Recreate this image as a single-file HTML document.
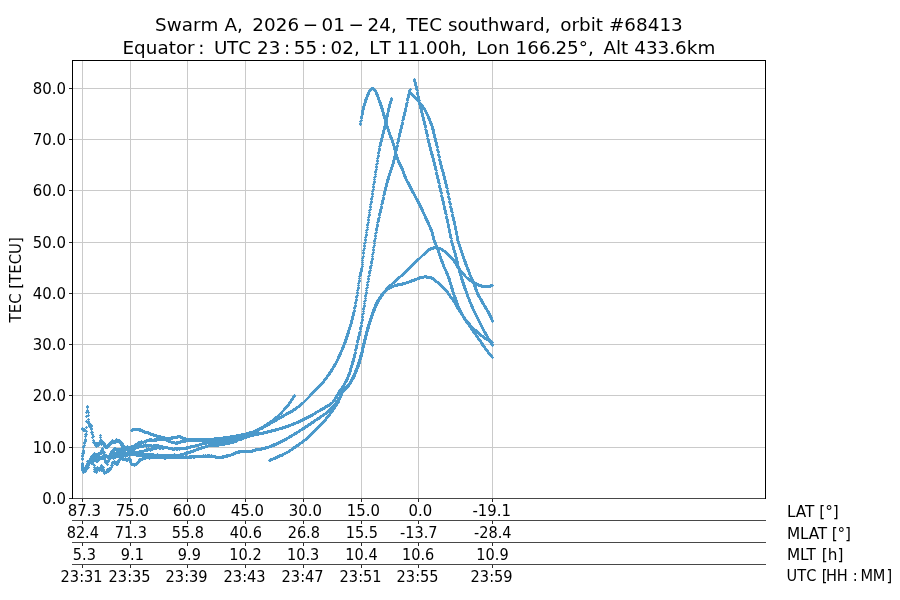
<!DOCTYPE html>
<html lang="en"><head><meta charset="utf-8"><title>Swarm A TEC southward orbit 68413</title>
<style>html,body{margin:0;padding:0;background:#fff;overflow:hidden}svg{display:block}</style></head>
<body>
<svg width="900" height="600" viewBox="0 0 900 600">
<rect width="900" height="600" fill="#fff"/>
<path d="M82.5 60.5 V498.5M130.5 60.5 V498.5M187.5 60.5 V498.5M245.5 60.5 V498.5M303.5 60.5 V498.5M361.5 60.5 V498.5M418.5 60.5 V498.5M492.5 60.5 V498.5M72.5 447.5 H765.5M72.5 395.5 H765.5M72.5 344.5 H765.5M72.5 293.5 H765.5M72.5 242.5 H765.5M72.5 190.5 H765.5M72.5 139.5 H765.5M72.5 88.5 H765.5" stroke="#cacaca" stroke-width="1" fill="none" shape-rendering="crispEdges"/>
<defs><marker id="p" markerUnits="userSpaceOnUse" markerWidth="4" markerHeight="4" refX="2" refY="2" viewBox="0 0 4 4"><path d="M0.55 2H3.45M2 0.55V3.45" stroke="#4b99cb" stroke-width="1.15" fill="none"/></marker></defs>
<g fill="none" stroke="none" marker-start="url(#p)" marker-mid="url(#p)" marker-end="url(#p)">
<polyline points="82.5,464.5 82.5,463.5 82.5,459.5 82.5,458.5 82.5,455.5 82.5,456.5 82.5,453.5 83.5,453.5 83.5,452.5 83.5,451.5 83.5,450.5 83.5,447.5 83.5,446.5 84.5,445.5 84.5,443.5 84.5,442.5 85.5,441.5 85.5,440.5 85.5,439.5 85.5,436.5 85.5,434.5 86.5,434.5 86.5,431.5 86.5,427.5 86.5,421.5 86.5,416.5 86.5,412.5 87.5,411.5 87.5,407.5 87.5,406.5 87.5,410.5 88.5,412.5 88.5,415.5 88.5,419.5 88.5,421.5 88.5,423.5 88.5,422.5 89.5,425.5 89.5,426.5 89.5,423.5 90.5,426.5 90.5,425.5 90.5,427.5 90.5,424.5 91.5,426.5 91.5,425.5 91.5,428.5 91.5,429.5 91.5,432.5 92.5,432.5 92.5,434.5 92.5,437.5 93.5,436.5 93.5,440.5 93.5,442.5 94.5,442.5 94.5,443.5 95.5,444.5 95.5,445.5 96.5,444.5 96.5,446.5 96.5,443.5 97.5,444.5 97.5,443.5 98.5,443.5 98.5,445.5 98.5,444.5 99.5,442.5 99.5,443.5 100.5,440.5 100.5,435.5 100.5,437.5 101.5,440.5 101.5,443.5 101.5,442.5 101.5,444.5 102.5,442.5 102.5,443.5 103.5,443.5 103.5,442.5 103.5,444.5 104.5,445.5 104.5,444.5 104.5,443.5 104.5,446.5 105.5,445.5 105.5,446.5 105.5,447.5 106.5,446.5 106.5,447.5 107.5,445.5 107.5,447.5 108.5,446.5 108.5,445.5 109.5,444.5 109.5,445.5 109.5,443.5 110.5,443.5 110.5,442.5 111.5,443.5 111.5,442.5 112.5,442.5 112.5,440.5 113.5,441.5 113.5,442.5 114.5,442.5 114.5,441.5 115.5,441.5 115.5,442.5 116.5,440.5 116.5,441.5 116.5,439.5 117.5,440.5 117.5,441.5 118.5,441.5 118.5,440.5 119.5,440.5 119.5,441.5 119.5,442.5 120.5,442.5 120.5,441.5 120.5,443.5 121.5,442.5 121.5,443.5 121.5,445.5 121.5,444.5 122.5,443.5 122.5,444.5 122.5,445.5 123.5,446.5 123.5,447.5 124.5,447.5 124.5,446.5 124.5,448.5 125.5,447.5 126.5,447.5 126.5,448.5 127.5,447.5 127.5,446.5 127.5,448.5 128.5,447.5 128.5,448.5 129.5,447.5 129.5,448.5 129.5,449.5 130.5,448.5 130.5,447.5 131.5,447.5 131.5,446.5 132.5,447.5 132.5,446.5 133.5,446.5 134.5,446.5 134.5,445.5 135.5,446.5 135.5,444.5 135.5,445.5 136.5,444.5 136.5,445.5 137.5,444.5 137.5,443.5 138.5,442.5 138.5,443.5 139.5,442.5 139.5,443.5 140.5,442.5 141.5,442.5 141.5,441.5 142.5,442.5 143.5,442.5 144.5,441.5 145.5,441.5 146.5,441.5 146.5,440.5 147.5,440.5 148.5,440.5 149.5,440.5 149.5,439.5 150.5,440.5 150.5,439.5 151.5,439.5 151.5,440.5 152.5,440.5 153.5,440.5 154.5,440.5 154.5,439.5 155.5,440.5 155.5,439.5 156.5,439.5 156.5,440.5 157.5,439.5 158.5,439.5 159.5,439.5 160.5,439.5 160.5,438.5 161.5,439.5 161.5,438.5 162.5,439.5 163.5,439.5 164.5,439.5 165.5,439.5 166.5,440.5 167.5,440.5 168.5,440.5 168.5,441.5 169.5,441.5 170.5,441.5 171.5,442.5 172.5,442.5 173.5,442.5 174.5,442.5 175.5,443.5 176.5,443.5 176.5,442.5 177.5,442.5 177.5,443.5 178.5,442.5 179.5,442.5 180.5,442.5 180.5,441.5 181.5,441.5 182.5,441.5 182.5,440.5 183.5,440.5 183.5,441.5 184.5,441.5 184.5,440.5 185.5,441.5 185.5,440.5 186.5,440.5 187.5,440.5 188.5,440.5 189.5,440.5 190.5,440.5 191.5,440.5 192.5,440.5 193.5,440.5 194.5,440.5 195.5,440.5 196.5,440.5 197.5,440.5 198.5,440.5 199.5,440.5 200.5,440.5 201.5,440.5 202.5,440.5 203.5,440.5 204.5,440.5 205.5,440.5 206.5,440.5 207.5,440.5 208.5,440.5 209.5,440.5 210.5,440.5 211.5,440.5 212.5,440.5 213.5,440.5 214.5,440.5 215.5,440.5 216.5,440.5 217.5,440.5 218.5,440.5 219.5,440.5 220.5,440.5 221.5,440.5 222.5,440.5 223.5,440.5 224.5,440.5 225.5,440.5 226.5,440.5 226.5,439.5 227.5,439.5 228.5,440.5 228.5,439.5 229.5,439.5 230.5,439.5 231.5,439.5 232.5,439.5 233.5,439.5 234.5,439.5 234.5,438.5 235.5,438.5 236.5,438.5 237.5,438.5 237.5,437.5 238.5,438.5 238.5,437.5 239.5,438.5 239.5,437.5 240.5,437.5 241.5,437.5 241.5,436.5 242.5,436.5 243.5,436.5 244.5,436.5 244.5,435.5 245.5,435.5 246.5,435.5 247.5,434.5 248.5,434.5 249.5,434.5 249.5,433.5 250.5,433.5 251.5,432.5 252.5,432.5 253.5,432.5 254.5,432.5 254.5,431.5 255.5,431.5 256.5,430.5 257.5,430.5 258.5,430.5 258.5,429.5 259.5,429.5 260.5,428.5 261.5,428.5 261.5,427.5 262.5,428.5 262.5,427.5 263.5,427.5 264.5,426.5 265.5,426.5 266.5,425.5 267.5,425.5 268.5,424.5 269.5,424.5 269.5,423.5 270.5,423.5 271.5,422.5 272.5,422.5 273.5,421.5 274.5,421.5 274.5,420.5 275.5,420.5 276.5,420.5 276.5,419.5 277.5,419.5 278.5,418.5 279.5,418.5 279.5,417.5 280.5,417.5 281.5,417.5 281.5,416.5 282.5,416.5 283.5,416.5 283.5,415.5 284.5,415.5 285.5,414.5 286.5,414.5 286.5,413.5 287.5,413.5 288.5,413.5 288.5,412.5 289.5,412.5 290.5,412.5 290.5,411.5 291.5,411.5 292.5,411.5 292.5,410.5 293.5,410.5 293.5,409.5 294.5,409.5 295.5,409.5 295.5,408.5 296.5,408.5 296.5,407.5 297.5,407.5 298.5,406.5 299.5,406.5 299.5,405.5 300.5,405.5 300.5,404.5 301.5,404.5 301.5,403.5 302.5,403.5 303.5,402.5 304.5,401.5 305.5,400.5 306.5,399.5 307.5,398.5 308.5,397.5 309.5,396.5 310.5,395.5 310.5,394.5 311.5,394.5 311.5,393.5 312.5,393.5 312.5,392.5 313.5,392.5 313.5,391.5 314.5,391.5 314.5,390.5 315.5,390.5 315.5,389.5 316.5,389.5 316.5,388.5 317.5,388.5 317.5,387.5 318.5,387.5 318.5,386.5 319.5,386.5 319.5,385.5 320.5,385.5 320.5,384.5 321.5,384.5 321.5,383.5 322.5,383.5 322.5,382.5 323.5,382.5 323.5,381.5 324.5,380.5 324.5,379.5 325.5,379.5 325.5,378.5 326.5,378.5 326.5,377.5 327.5,376.5 327.5,375.5 328.5,375.5 328.5,374.5 329.5,374.5 329.5,373.5 329.5,372.5 330.5,372.5 330.5,371.5 331.5,371.5 331.5,370.5 331.5,369.5 332.5,369.5 332.5,368.5 333.5,367.5 333.5,366.5 334.5,366.5 334.5,365.5 334.5,364.5 335.5,364.5 335.5,363.5 336.5,362.5 336.5,361.5 337.5,360.5 337.5,359.5 338.5,358.5 338.5,357.5 338.5,356.5 339.5,356.5 339.5,355.5 339.5,354.5 340.5,354.5 340.5,353.5 340.5,352.5 341.5,351.5 341.5,350.5 342.5,349.5 342.5,348.5 342.5,347.5 343.5,347.5 343.5,346.5 343.5,345.5 344.5,344.5 344.5,343.5 344.5,342.5 345.5,342.5 345.5,341.5 345.5,340.5 345.5,339.5 346.5,339.5 346.5,338.5 346.5,337.5 346.5,336.5 347.5,336.5 347.5,335.5 347.5,334.5 347.5,333.5 348.5,333.5 348.5,332.5 348.5,331.5 348.5,330.5 349.5,329.5 349.5,328.5 349.5,327.5 350.5,326.5 350.5,325.5 350.5,324.5 351.5,323.5 351.5,322.5 351.5,321.5 351.5,320.5 352.5,319.5 352.5,318.5 352.5,317.5 352.5,316.5 353.5,315.5 353.5,314.5 353.5,313.5 353.5,312.5 354.5,311.5 354.5,310.5 354.5,308.5 354.5,307.5 355.5,306.5 355.5,305.5 355.5,303.5 355.5,302.5 356.5,300.5 356.5,299.5 356.5,297.5 356.5,296.5 357.5,295.5 357.5,293.5 357.5,292.5 357.5,290.5 358.5,288.5 358.5,287.5 358.5,285.5 358.5,283.5 359.5,281.5 359.5,280.5 359.5,278.5 359.5,276.5 360.5,275.5 360.5,274.5 360.5,273.5 360.5,272.5 361.5,271.5 361.5,270.5 361.5,269.5 361.5,268.5 362.5,266.5 362.5,264.5 362.5,262.5 362.5,260.5 362.5,258.5 363.5,256.5 363.5,253.5 363.5,252.5 363.5,250.5 364.5,248.5 364.5,246.5 364.5,245.5 364.5,243.5 365.5,242.5 365.5,240.5 365.5,239.5 365.5,237.5 366.5,235.5 366.5,234.5 366.5,232.5 366.5,230.5 367.5,229.5 367.5,227.5 367.5,225.5 367.5,224.5 368.5,222.5 368.5,220.5 368.5,219.5 368.5,217.5 369.5,215.5 369.5,214.5 369.5,212.5 369.5,210.5 370.5,209.5 370.5,207.5 370.5,206.5 370.5,204.5 371.5,202.5 371.5,201.5 371.5,199.5 371.5,198.5 372.5,196.5 372.5,194.5 372.5,193.5 372.5,191.5 373.5,189.5 373.5,187.5 373.5,186.5 373.5,184.5 374.5,182.5 374.5,181.5 374.5,179.5 374.5,177.5 375.5,176.5 375.5,174.5 375.5,172.5 375.5,171.5 376.5,169.5 376.5,167.5 376.5,166.5 376.5,164.5 377.5,163.5 377.5,161.5 377.5,160.5 377.5,158.5 378.5,156.5 378.5,155.5 378.5,153.5 378.5,152.5 379.5,150.5 379.5,149.5 379.5,148.5 379.5,146.5 380.5,145.5 380.5,144.5 380.5,143.5 380.5,142.5 381.5,141.5 381.5,140.5 381.5,139.5 381.5,138.5 382.5,137.5 382.5,136.5 382.5,135.5 382.5,134.5 383.5,133.5 383.5,132.5 383.5,131.5 383.5,130.5 384.5,129.5 384.5,128.5 384.5,127.5 384.5,126.5 385.5,125.5 385.5,124.5 385.5,123.5 385.5,122.5 386.5,121.5 386.5,120.5 386.5,119.5 386.5,118.5 386.5,117.5 387.5,116.5 387.5,115.5 387.5,114.5 387.5,113.5 388.5,111.5 388.5,110.5 388.5,109.5 388.5,108.5 389.5,107.5 389.5,106.5 389.5,105.5 389.5,104.5 390.5,103.5 390.5,102.5 390.5,101.5 391.5,100.5 391.5,99.5 391.5,98.5"/>
<polyline points="82.5,467.5 82.5,468.5 82.5,469.5 82.5,470.5 83.5,469.5 83.5,470.5 84.5,469.5 84.5,470.5 84.5,468.5 85.5,469.5 85.5,470.5 85.5,468.5 85.5,467.5 86.5,468.5 86.5,465.5 86.5,466.5 87.5,466.5 87.5,464.5 87.5,463.5 87.5,461.5 88.5,463.5 88.5,461.5 88.5,462.5 89.5,461.5 89.5,460.5 90.5,460.5 90.5,461.5 90.5,459.5 90.5,458.5 91.5,461.5 91.5,459.5 91.5,456.5 91.5,457.5 91.5,458.5 92.5,456.5 92.5,457.5 93.5,455.5 93.5,456.5 93.5,454.5 94.5,453.5 94.5,455.5 94.5,454.5 94.5,456.5 95.5,456.5 95.5,454.5 95.5,455.5 96.5,455.5 96.5,456.5 96.5,454.5 97.5,456.5 97.5,454.5 97.5,455.5 98.5,454.5 98.5,455.5 98.5,453.5 99.5,454.5 99.5,453.5 100.5,453.5 100.5,452.5 101.5,453.5 101.5,452.5 101.5,451.5 101.5,450.5 102.5,449.5 102.5,448.5 102.5,450.5 103.5,452.5 103.5,451.5 104.5,452.5 104.5,455.5 104.5,456.5 104.5,454.5 105.5,456.5 105.5,457.5 106.5,456.5 106.5,455.5 107.5,456.5 108.5,456.5 108.5,457.5 109.5,457.5 109.5,455.5 109.5,456.5 110.5,455.5 110.5,454.5 110.5,453.5 111.5,452.5 111.5,451.5 112.5,451.5 112.5,452.5 113.5,450.5 113.5,451.5 113.5,449.5 114.5,449.5 114.5,448.5 115.5,448.5 115.5,449.5 116.5,449.5 116.5,450.5 117.5,450.5 117.5,451.5 117.5,449.5 118.5,450.5 118.5,449.5 119.5,449.5 120.5,449.5 121.5,448.5 121.5,449.5 122.5,448.5 122.5,449.5 122.5,450.5 123.5,449.5 123.5,450.5 124.5,450.5 124.5,449.5 125.5,448.5 125.5,449.5 126.5,449.5 127.5,450.5 128.5,450.5 129.5,451.5 129.5,450.5 130.5,451.5 130.5,450.5 131.5,451.5 131.5,450.5 132.5,450.5 133.5,450.5 133.5,449.5 134.5,448.5 134.5,449.5 135.5,448.5 135.5,447.5 136.5,447.5 137.5,446.5 137.5,447.5 138.5,446.5 138.5,447.5 139.5,446.5 140.5,446.5 140.5,445.5 141.5,446.5 141.5,445.5 142.5,446.5 143.5,445.5 143.5,446.5 144.5,445.5 145.5,445.5 145.5,444.5 146.5,445.5 146.5,446.5 147.5,445.5 148.5,446.5 148.5,445.5 149.5,445.5 150.5,445.5 151.5,445.5 151.5,446.5 152.5,446.5 153.5,445.5 153.5,446.5 154.5,445.5 154.5,446.5 155.5,445.5 156.5,445.5 157.5,445.5 158.5,446.5 158.5,445.5 159.5,446.5 160.5,446.5 161.5,446.5 162.5,446.5 163.5,447.5 164.5,447.5 165.5,447.5 166.5,447.5 167.5,447.5 168.5,448.5 169.5,448.5 170.5,448.5 171.5,448.5 172.5,448.5 172.5,449.5 173.5,449.5 174.5,449.5 174.5,448.5 175.5,448.5 176.5,448.5 176.5,449.5 177.5,448.5 177.5,449.5 178.5,448.5 179.5,449.5 179.5,448.5 180.5,448.5 181.5,448.5 182.5,448.5 183.5,448.5 184.5,448.5 185.5,448.5 186.5,447.5 186.5,448.5 187.5,448.5 187.5,447.5 188.5,447.5 189.5,447.5 190.5,447.5 190.5,446.5 191.5,446.5 192.5,446.5 193.5,446.5 194.5,446.5 195.5,445.5 196.5,445.5 197.5,445.5 198.5,445.5 199.5,444.5 200.5,444.5 201.5,444.5 202.5,443.5 203.5,443.5 204.5,443.5 205.5,443.5 205.5,442.5 206.5,442.5 206.5,443.5 207.5,442.5 208.5,442.5 209.5,442.5 210.5,442.5 211.5,442.5 212.5,442.5 213.5,442.5 214.5,442.5 215.5,442.5 216.5,442.5 217.5,442.5 218.5,442.5 219.5,442.5 220.5,442.5 221.5,442.5 222.5,442.5 223.5,442.5 224.5,442.5 225.5,442.5 226.5,442.5 227.5,442.5 227.5,441.5 228.5,441.5 229.5,441.5 230.5,441.5 231.5,441.5 232.5,441.5 233.5,441.5 234.5,441.5 234.5,440.5 235.5,440.5 236.5,440.5 237.5,440.5 238.5,439.5 239.5,439.5 240.5,439.5 241.5,439.5 241.5,438.5 242.5,438.5 243.5,438.5 243.5,437.5 244.5,437.5 245.5,437.5 246.5,437.5 246.5,436.5 247.5,436.5 248.5,436.5 248.5,435.5 249.5,436.5 249.5,435.5 250.5,435.5 251.5,435.5 252.5,435.5 253.5,435.5 253.5,434.5 254.5,434.5 255.5,434.5 256.5,434.5 257.5,434.5 258.5,434.5 258.5,433.5 259.5,433.5 260.5,433.5 261.5,433.5 262.5,433.5 263.5,433.5 263.5,432.5 264.5,432.5 265.5,432.5 266.5,432.5 267.5,432.5 267.5,431.5 268.5,431.5 269.5,431.5 270.5,431.5 271.5,431.5 271.5,430.5 272.5,430.5 273.5,430.5 274.5,430.5 275.5,430.5 275.5,429.5 276.5,429.5 277.5,429.5 278.5,429.5 279.5,428.5 280.5,428.5 281.5,428.5 282.5,428.5 282.5,427.5 283.5,427.5 284.5,427.5 285.5,427.5 285.5,426.5 286.5,426.5 287.5,426.5 288.5,426.5 288.5,425.5 289.5,425.5 290.5,425.5 291.5,424.5 292.5,424.5 293.5,424.5 293.5,423.5 294.5,423.5 295.5,423.5 296.5,422.5 297.5,422.5 298.5,422.5 298.5,421.5 299.5,421.5 300.5,421.5 300.5,420.5 301.5,420.5 302.5,420.5 302.5,419.5 303.5,419.5 304.5,419.5 304.5,418.5 305.5,418.5 306.5,418.5 306.5,417.5 307.5,417.5 308.5,417.5 308.5,416.5 309.5,416.5 310.5,416.5 310.5,415.5 311.5,415.5 312.5,415.5 312.5,414.5 313.5,414.5 314.5,413.5 315.5,413.5 315.5,412.5 316.5,412.5 317.5,411.5 318.5,411.5 319.5,410.5 320.5,410.5 320.5,409.5 321.5,409.5 322.5,409.5 322.5,408.5 323.5,408.5 324.5,408.5 324.5,407.5 325.5,407.5 325.5,406.5 326.5,406.5 327.5,406.5 327.5,405.5 328.5,405.5 329.5,405.5 329.5,404.5 330.5,404.5 330.5,403.5 331.5,403.5 332.5,402.5 333.5,401.5 333.5,400.5 334.5,400.5 334.5,399.5 335.5,398.5 335.5,397.5 336.5,397.5 336.5,396.5 336.5,395.5 337.5,395.5 337.5,394.5 338.5,393.5 338.5,392.5 339.5,391.5 339.5,390.5 340.5,390.5 340.5,389.5 341.5,389.5 341.5,388.5 342.5,387.5 342.5,386.5 343.5,386.5 343.5,385.5 344.5,384.5 344.5,383.5 345.5,382.5 345.5,381.5 346.5,381.5 346.5,380.5 346.5,379.5 347.5,379.5 347.5,378.5 347.5,377.5 348.5,376.5 348.5,375.5 348.5,374.5 349.5,374.5 349.5,373.5 349.5,372.5 350.5,371.5 350.5,370.5 350.5,369.5 350.5,368.5 351.5,367.5 351.5,366.5 351.5,365.5 352.5,364.5 352.5,363.5 352.5,362.5 352.5,361.5 353.5,361.5 353.5,360.5 353.5,359.5 353.5,358.5 354.5,357.5 354.5,356.5 354.5,355.5 354.5,354.5 355.5,353.5 355.5,352.5 355.5,350.5 355.5,349.5 356.5,348.5 356.5,347.5 356.5,346.5 356.5,345.5 357.5,344.5 357.5,342.5 357.5,341.5 357.5,340.5 358.5,339.5 358.5,338.5 358.5,337.5 358.5,336.5 359.5,335.5 359.5,334.5 359.5,333.5 359.5,332.5 360.5,331.5 360.5,329.5 360.5,328.5 360.5,327.5 361.5,326.5 361.5,325.5 361.5,323.5 361.5,322.5 362.5,320.5 362.5,319.5 362.5,317.5 362.5,316.5 362.5,314.5 363.5,313.5 363.5,311.5 363.5,309.5 363.5,308.5 364.5,306.5 364.5,305.5 364.5,303.5 364.5,301.5 365.5,300.5 365.5,298.5 365.5,296.5 365.5,295.5 366.5,293.5 366.5,292.5 366.5,290.5 366.5,288.5 367.5,287.5 367.5,285.5 367.5,284.5 367.5,282.5 368.5,281.5 368.5,279.5 368.5,278.5 368.5,276.5 369.5,275.5 369.5,273.5 369.5,272.5 369.5,271.5 370.5,270.5 370.5,268.5 370.5,267.5 370.5,266.5 371.5,265.5 371.5,263.5 371.5,262.5 371.5,261.5 372.5,259.5 372.5,258.5 372.5,256.5 372.5,254.5 373.5,252.5 373.5,250.5 373.5,249.5 373.5,247.5 374.5,245.5 374.5,243.5 374.5,241.5 374.5,240.5 375.5,238.5 375.5,236.5 375.5,235.5 375.5,233.5 376.5,232.5 376.5,230.5 376.5,229.5 376.5,228.5 377.5,226.5 377.5,225.5 377.5,224.5 377.5,222.5 378.5,221.5 378.5,220.5 378.5,219.5 378.5,218.5 379.5,217.5 379.5,215.5 379.5,214.5 379.5,213.5 380.5,212.5 380.5,211.5 380.5,210.5 380.5,209.5 381.5,208.5 381.5,207.5 381.5,206.5 381.5,204.5 382.5,203.5 382.5,202.5 382.5,201.5 382.5,200.5 383.5,199.5 383.5,198.5 383.5,197.5 383.5,195.5 384.5,194.5 384.5,193.5 384.5,192.5 384.5,191.5 385.5,190.5 385.5,189.5 385.5,188.5 385.5,187.5 386.5,186.5 386.5,185.5 386.5,184.5 386.5,183.5 387.5,182.5 387.5,181.5 387.5,180.5 387.5,179.5 388.5,179.5 388.5,178.5 388.5,177.5 388.5,176.5 389.5,175.5 389.5,174.5 389.5,173.5 390.5,172.5 390.5,171.5 390.5,170.5 391.5,169.5 391.5,168.5 391.5,167.5 392.5,166.5 392.5,165.5 392.5,164.5 393.5,163.5 393.5,162.5 393.5,161.5 393.5,160.5 394.5,159.5 394.5,158.5 394.5,157.5 394.5,156.5 395.5,155.5 395.5,154.5 395.5,153.5 395.5,152.5 396.5,150.5 396.5,149.5 396.5,148.5 396.5,147.5 397.5,146.5 397.5,145.5 397.5,143.5 397.5,142.5 398.5,141.5 398.5,140.5 398.5,139.5 398.5,138.5 399.5,136.5 399.5,135.5 399.5,134.5 399.5,133.5 400.5,132.5 400.5,131.5 400.5,130.5 400.5,129.5 401.5,128.5 401.5,127.5 401.5,126.5 401.5,125.5 402.5,124.5 402.5,123.5 402.5,122.5 402.5,120.5 403.5,119.5 403.5,118.5 403.5,117.5 403.5,116.5 404.5,115.5 404.5,114.5 404.5,113.5 404.5,112.5 405.5,111.5 405.5,110.5 405.5,109.5 405.5,108.5 406.5,106.5 406.5,105.5 406.5,104.5 406.5,103.5 407.5,102.5 407.5,100.5 407.5,99.5 407.5,98.5 408.5,97.5 408.5,96.5 408.5,95.5 408.5,94.5 409.5,93.5 409.5,92.5 409.5,91.5 409.5,90.5 410.5,89.5"/>
<polyline points="410.5,93.5 411.5,93.5 411.5,94.5 412.5,94.5 412.5,95.5 413.5,95.5 413.5,96.5 414.5,96.5 414.5,97.5 415.5,97.5 415.5,98.5 416.5,98.5 416.5,99.5 417.5,99.5 417.5,100.5 418.5,101.5 419.5,102.5 419.5,103.5 420.5,103.5 420.5,104.5 421.5,104.5 421.5,105.5 422.5,105.5 422.5,106.5 423.5,107.5 423.5,108.5 424.5,108.5 424.5,109.5 425.5,110.5 425.5,111.5 426.5,112.5 426.5,113.5 427.5,114.5 427.5,115.5 428.5,116.5 428.5,117.5 428.5,118.5 429.5,118.5 429.5,119.5 429.5,120.5 430.5,121.5 430.5,122.5 430.5,123.5 431.5,123.5 431.5,124.5 431.5,125.5 432.5,126.5 432.5,127.5 432.5,128.5 432.5,129.5 433.5,129.5 433.5,130.5 433.5,131.5 433.5,132.5 433.5,133.5 434.5,134.5 434.5,135.5 434.5,136.5 434.5,137.5 435.5,138.5 435.5,139.5 435.5,140.5 435.5,141.5 436.5,142.5 436.5,143.5 436.5,144.5 436.5,145.5 437.5,146.5 437.5,147.5 437.5,149.5 437.5,150.5 438.5,151.5 438.5,152.5 438.5,154.5 438.5,155.5 439.5,156.5 439.5,157.5 439.5,159.5 439.5,160.5 440.5,161.5 440.5,162.5 440.5,163.5 440.5,164.5 441.5,165.5 441.5,166.5 441.5,167.5 441.5,168.5 442.5,169.5 442.5,170.5 442.5,171.5 443.5,172.5 443.5,173.5 443.5,174.5 443.5,175.5 444.5,176.5 444.5,177.5 444.5,178.5 444.5,179.5 445.5,180.5 445.5,181.5 445.5,182.5 445.5,183.5 446.5,184.5 446.5,185.5 446.5,186.5 446.5,187.5 447.5,188.5 447.5,190.5 447.5,191.5 447.5,192.5 448.5,193.5 448.5,194.5 448.5,196.5 448.5,197.5 449.5,198.5 449.5,199.5 449.5,201.5 449.5,202.5 450.5,203.5 450.5,204.5 450.5,206.5 450.5,207.5 451.5,208.5 451.5,209.5 451.5,210.5 451.5,211.5 452.5,212.5 452.5,214.5 452.5,215.5 452.5,216.5 453.5,217.5 453.5,218.5 453.5,219.5 453.5,220.5 454.5,221.5 454.5,222.5 454.5,223.5 454.5,224.5 455.5,226.5 455.5,227.5 455.5,228.5 455.5,229.5 456.5,231.5 456.5,232.5 456.5,233.5 456.5,234.5 457.5,236.5 457.5,237.5 457.5,238.5 457.5,239.5 457.5,240.5 458.5,241.5 458.5,242.5 458.5,243.5 459.5,244.5 459.5,245.5 459.5,246.5 460.5,247.5 460.5,248.5 460.5,249.5 461.5,250.5 461.5,251.5 461.5,252.5 462.5,253.5 462.5,254.5 462.5,255.5 463.5,256.5 463.5,257.5 463.5,258.5 464.5,259.5 464.5,260.5 464.5,261.5 465.5,261.5 465.5,262.5 465.5,263.5 465.5,264.5 466.5,264.5 466.5,265.5 466.5,266.5 467.5,267.5 467.5,268.5 467.5,269.5 468.5,269.5 468.5,270.5 468.5,271.5 469.5,272.5 469.5,273.5 469.5,274.5 470.5,275.5 470.5,276.5 471.5,277.5 471.5,278.5 471.5,279.5 472.5,279.5 472.5,280.5 472.5,281.5 473.5,281.5 473.5,282.5 473.5,283.5 474.5,284.5 474.5,285.5 474.5,286.5 475.5,286.5 475.5,287.5 475.5,288.5 475.5,289.5 476.5,289.5 476.5,290.5 476.5,291.5 477.5,292.5 477.5,293.5 477.5,294.5 478.5,294.5 478.5,295.5 478.5,296.5 479.5,296.5 479.5,297.5 480.5,298.5 480.5,299.5 481.5,299.5 481.5,300.5 481.5,301.5 482.5,301.5 482.5,302.5 482.5,303.5 483.5,303.5 483.5,304.5 484.5,305.5 484.5,306.5 485.5,306.5 485.5,307.5 485.5,308.5 486.5,308.5 486.5,309.5 487.5,310.5 487.5,311.5 488.5,311.5 488.5,312.5 488.5,313.5 489.5,313.5 489.5,314.5 489.5,315.5 490.5,315.5 490.5,316.5 490.5,317.5 491.5,317.5 491.5,318.5 491.5,319.5 492.5,320.5 492.5,321.5"/>
<polyline points="414.5,79.5 414.5,80.5 414.5,81.5 415.5,82.5 415.5,83.5 415.5,84.5 415.5,85.5 416.5,86.5 416.5,87.5 416.5,88.5 416.5,89.5 417.5,90.5 417.5,92.5 417.5,93.5 417.5,94.5 418.5,96.5 418.5,97.5 418.5,98.5 418.5,99.5 419.5,100.5 419.5,102.5 419.5,103.5 419.5,104.5 420.5,105.5 420.5,106.5 420.5,107.5 420.5,108.5 421.5,109.5 421.5,110.5 421.5,111.5 421.5,112.5 422.5,113.5 422.5,114.5 422.5,115.5 422.5,116.5 423.5,117.5 423.5,118.5 423.5,119.5 423.5,120.5 424.5,121.5 424.5,122.5 424.5,123.5 424.5,124.5 425.5,125.5 425.5,126.5 425.5,127.5 425.5,129.5 426.5,130.5 426.5,131.5 426.5,132.5 426.5,133.5 427.5,134.5 427.5,135.5 427.5,136.5 427.5,138.5 428.5,139.5 428.5,140.5 428.5,141.5 428.5,142.5 429.5,143.5 429.5,144.5 429.5,145.5 429.5,146.5 430.5,147.5 430.5,148.5 430.5,149.5 430.5,150.5 431.5,151.5 431.5,152.5 431.5,153.5 431.5,154.5 432.5,154.5 432.5,155.5 432.5,156.5 432.5,157.5 433.5,158.5 433.5,159.5 433.5,160.5 433.5,161.5 434.5,162.5 434.5,163.5 434.5,164.5 434.5,165.5 435.5,166.5 435.5,167.5 435.5,168.5 435.5,169.5 436.5,170.5 436.5,172.5 436.5,173.5 436.5,174.5 437.5,175.5 437.5,176.5 437.5,177.5 437.5,178.5 438.5,179.5 438.5,180.5 438.5,181.5 438.5,182.5 439.5,183.5 439.5,185.5 439.5,186.5 439.5,187.5 440.5,188.5 440.5,189.5 440.5,190.5 440.5,191.5 441.5,192.5 441.5,193.5 441.5,195.5 441.5,196.5 442.5,197.5 442.5,198.5 442.5,199.5 442.5,200.5 443.5,201.5 443.5,202.5 443.5,203.5 443.5,204.5 444.5,206.5 444.5,207.5 444.5,208.5 444.5,209.5 445.5,210.5 445.5,211.5 445.5,212.5 445.5,213.5 446.5,214.5 446.5,216.5 446.5,217.5 446.5,218.5 447.5,219.5 447.5,220.5 447.5,221.5 447.5,222.5 448.5,224.5 448.5,225.5 448.5,226.5 448.5,227.5 449.5,229.5 449.5,230.5 449.5,231.5 449.5,232.5 450.5,234.5 450.5,235.5 450.5,236.5 450.5,237.5 451.5,238.5 451.5,240.5 451.5,241.5 451.5,242.5 452.5,243.5 452.5,244.5 452.5,245.5 453.5,246.5 453.5,247.5 453.5,248.5 453.5,249.5 454.5,250.5 454.5,251.5 454.5,252.5 455.5,253.5 455.5,254.5 455.5,255.5 455.5,256.5 456.5,257.5 456.5,258.5 456.5,259.5 456.5,260.5 457.5,261.5 457.5,262.5 457.5,263.5 457.5,264.5 457.5,265.5 458.5,266.5 458.5,267.5 458.5,268.5 459.5,269.5 459.5,270.5 459.5,271.5 459.5,272.5 460.5,273.5 460.5,274.5 460.5,275.5 461.5,276.5 461.5,277.5 461.5,278.5 461.5,279.5 462.5,279.5 462.5,280.5 462.5,281.5 462.5,282.5 463.5,282.5 463.5,283.5 463.5,284.5 463.5,285.5 464.5,285.5 464.5,286.5 464.5,287.5 464.5,288.5 465.5,288.5 465.5,289.5 465.5,290.5 466.5,291.5 466.5,292.5 466.5,293.5 467.5,294.5 467.5,295.5 467.5,296.5 468.5,297.5 468.5,298.5 469.5,299.5 469.5,300.5 469.5,301.5 470.5,302.5 470.5,303.5 471.5,304.5 471.5,305.5 471.5,306.5 472.5,306.5 472.5,307.5 472.5,308.5 473.5,309.5 473.5,310.5 474.5,311.5 474.5,312.5 475.5,313.5 475.5,314.5 476.5,315.5 476.5,316.5 477.5,317.5 477.5,318.5 478.5,319.5 478.5,320.5 479.5,321.5 479.5,322.5 480.5,323.5 480.5,324.5 481.5,325.5 481.5,326.5 482.5,327.5 482.5,328.5 483.5,329.5 483.5,330.5 484.5,331.5 484.5,332.5 485.5,332.5 485.5,333.5 485.5,334.5 486.5,334.5 486.5,335.5 487.5,336.5 487.5,337.5 488.5,338.5 488.5,339.5 489.5,339.5 489.5,340.5 489.5,341.5 490.5,341.5 490.5,342.5 491.5,343.5 491.5,344.5 492.5,344.5 492.5,345.5"/>
<polyline points="360.5,124.5 360.5,123.5 360.5,121.5 361.5,120.5 361.5,118.5 361.5,117.5 361.5,116.5 362.5,114.5 362.5,113.5 362.5,112.5 362.5,111.5 362.5,110.5 363.5,109.5 363.5,108.5 363.5,107.5 363.5,106.5 364.5,105.5 364.5,104.5 364.5,103.5 365.5,102.5 365.5,101.5 365.5,100.5 365.5,99.5 366.5,99.5 366.5,98.5 366.5,97.5 367.5,96.5 367.5,95.5 367.5,94.5 368.5,94.5 368.5,93.5 368.5,92.5 369.5,91.5 369.5,90.5 370.5,90.5 370.5,89.5 371.5,89.5 371.5,88.5 372.5,88.5 373.5,88.5 373.5,89.5 374.5,89.5 374.5,90.5 375.5,90.5 375.5,91.5 376.5,92.5 376.5,93.5 376.5,94.5 377.5,94.5 377.5,95.5 377.5,96.5 378.5,97.5 378.5,98.5 378.5,99.5 379.5,100.5 379.5,101.5 379.5,102.5 380.5,102.5 380.5,103.5 380.5,104.5 380.5,105.5 381.5,105.5 381.5,106.5 381.5,107.5 381.5,108.5 382.5,108.5 382.5,109.5 382.5,110.5 382.5,111.5 383.5,112.5 383.5,113.5 383.5,114.5 383.5,115.5 384.5,115.5 384.5,116.5 384.5,117.5 384.5,118.5 385.5,119.5 385.5,120.5 385.5,121.5 385.5,122.5 386.5,122.5 386.5,123.5 386.5,124.5 386.5,125.5 386.5,126.5 387.5,126.5 387.5,127.5 387.5,128.5 388.5,129.5 388.5,130.5 388.5,131.5 389.5,132.5 389.5,133.5 389.5,134.5 390.5,135.5 390.5,136.5 390.5,137.5 391.5,137.5 391.5,138.5 391.5,139.5 392.5,140.5 392.5,141.5 392.5,142.5 393.5,143.5 393.5,144.5 393.5,145.5 394.5,146.5 394.5,147.5 394.5,148.5 394.5,149.5 395.5,150.5 395.5,151.5 395.5,152.5 395.5,153.5 396.5,154.5 396.5,155.5 396.5,156.5 396.5,157.5 397.5,157.5 397.5,158.5 397.5,159.5 398.5,160.5 398.5,161.5 398.5,162.5 399.5,162.5 399.5,163.5 399.5,164.5 400.5,164.5 400.5,165.5 400.5,166.5 401.5,166.5 401.5,167.5 401.5,168.5 402.5,168.5 402.5,169.5 402.5,170.5 403.5,171.5 403.5,172.5 403.5,173.5 404.5,174.5 404.5,175.5 404.5,176.5 405.5,176.5 405.5,177.5 405.5,178.5 406.5,179.5 406.5,180.5 407.5,181.5 407.5,182.5 408.5,182.5 408.5,183.5 408.5,184.5 409.5,184.5 409.5,185.5 409.5,186.5 410.5,186.5 410.5,187.5 410.5,188.5 411.5,188.5 411.5,189.5 411.5,190.5 412.5,190.5 412.5,191.5 412.5,192.5 413.5,192.5 413.5,193.5 414.5,194.5 414.5,195.5 415.5,196.5 415.5,197.5 416.5,198.5 416.5,199.5 417.5,199.5 417.5,200.5 417.5,201.5 418.5,201.5 418.5,202.5 418.5,203.5 419.5,203.5 419.5,204.5 419.5,205.5 420.5,205.5 420.5,206.5 420.5,207.5 421.5,207.5 421.5,208.5 421.5,209.5 422.5,209.5 422.5,210.5 422.5,211.5 423.5,212.5 423.5,213.5 424.5,214.5 424.5,215.5 425.5,216.5 425.5,217.5 425.5,218.5 426.5,218.5 426.5,219.5 426.5,220.5 427.5,220.5 427.5,221.5 427.5,222.5 428.5,222.5 428.5,223.5 428.5,224.5 429.5,225.5 429.5,226.5 430.5,227.5 430.5,228.5 430.5,229.5 431.5,229.5 431.5,230.5 431.5,231.5 432.5,232.5 432.5,233.5 432.5,234.5 432.5,235.5 433.5,236.5 433.5,237.5 433.5,238.5 433.5,239.5 434.5,240.5 434.5,241.5 434.5,242.5 435.5,242.5 435.5,243.5 435.5,244.5 436.5,245.5 436.5,246.5 436.5,247.5 437.5,247.5 437.5,248.5 437.5,249.5 438.5,250.5 438.5,251.5 438.5,252.5 439.5,253.5 439.5,254.5 439.5,255.5 440.5,256.5 440.5,257.5 440.5,258.5 441.5,259.5 441.5,260.5 441.5,261.5 442.5,261.5 442.5,262.5 442.5,263.5 443.5,264.5 443.5,265.5 443.5,266.5 444.5,267.5 444.5,268.5 445.5,269.5 445.5,270.5 446.5,271.5 446.5,272.5 446.5,273.5 447.5,273.5 447.5,274.5 447.5,275.5 448.5,276.5 448.5,277.5 448.5,278.5 449.5,278.5 449.5,279.5 449.5,280.5 449.5,281.5 450.5,282.5 450.5,283.5 450.5,284.5 451.5,285.5 451.5,286.5 451.5,287.5 451.5,288.5 452.5,288.5 452.5,289.5 452.5,290.5 452.5,291.5 453.5,292.5 453.5,293.5 453.5,294.5 454.5,295.5 454.5,296.5 454.5,297.5 455.5,297.5 455.5,298.5 455.5,299.5 456.5,300.5 456.5,301.5 456.5,302.5 457.5,303.5 457.5,304.5 457.5,305.5 458.5,306.5 458.5,307.5 459.5,308.5 459.5,309.5 460.5,310.5 460.5,311.5 460.5,312.5 461.5,312.5 461.5,313.5 462.5,314.5 462.5,315.5 463.5,316.5 463.5,317.5 464.5,317.5 464.5,318.5 465.5,319.5 465.5,320.5 466.5,320.5 466.5,321.5 467.5,321.5 467.5,322.5 468.5,322.5 468.5,323.5 469.5,323.5 469.5,324.5 470.5,325.5 471.5,326.5 472.5,327.5 473.5,328.5 474.5,329.5 475.5,330.5 476.5,330.5 476.5,331.5 477.5,331.5 477.5,332.5 478.5,332.5 478.5,333.5 479.5,333.5 479.5,334.5 480.5,334.5 480.5,335.5 481.5,335.5 482.5,336.5 483.5,336.5 483.5,337.5 484.5,337.5 484.5,338.5 485.5,338.5 486.5,338.5 486.5,339.5 487.5,339.5 488.5,340.5 489.5,340.5 489.5,341.5 490.5,341.5 491.5,341.5 492.5,342.5"/>
<polyline points="82.5,463.5 82.5,464.5 82.5,466.5 82.5,465.5 82.5,467.5 83.5,469.5 83.5,470.5 83.5,468.5 83.5,471.5 83.5,472.5 84.5,469.5 84.5,470.5 85.5,470.5 85.5,469.5 85.5,467.5 86.5,468.5 86.5,469.5 86.5,466.5 87.5,466.5 87.5,465.5 88.5,465.5 88.5,464.5 88.5,462.5 89.5,462.5 89.5,461.5 90.5,461.5 91.5,459.5 91.5,458.5 91.5,457.5 92.5,458.5 92.5,456.5 92.5,457.5 93.5,457.5 93.5,459.5 93.5,460.5 93.5,464.5 94.5,465.5 94.5,467.5 94.5,469.5 94.5,471.5 95.5,469.5 95.5,470.5 95.5,471.5 96.5,472.5 96.5,470.5 96.5,469.5 97.5,470.5 97.5,468.5 97.5,467.5 98.5,468.5 98.5,469.5 99.5,469.5 99.5,470.5 99.5,468.5 100.5,468.5 100.5,467.5 101.5,468.5 101.5,470.5 101.5,465.5 102.5,468.5 102.5,467.5 103.5,467.5 103.5,469.5 103.5,470.5 103.5,471.5 104.5,473.5 104.5,471.5 104.5,472.5 105.5,472.5 106.5,471.5 106.5,472.5 107.5,469.5 107.5,470.5 107.5,471.5 108.5,470.5 108.5,471.5 108.5,469.5 109.5,470.5 109.5,468.5 109.5,469.5 110.5,468.5 110.5,469.5 111.5,467.5 111.5,465.5 112.5,465.5 112.5,463.5 112.5,462.5 113.5,462.5 114.5,462.5 114.5,463.5 114.5,461.5 115.5,462.5 115.5,463.5 116.5,463.5 116.5,462.5 116.5,464.5 117.5,464.5 117.5,463.5 118.5,462.5 118.5,461.5 118.5,460.5 119.5,460.5 119.5,459.5 120.5,458.5 120.5,457.5 121.5,457.5 121.5,458.5 122.5,457.5 122.5,459.5 123.5,458.5 123.5,459.5 124.5,459.5 125.5,458.5 125.5,459.5 126.5,459.5 126.5,460.5 127.5,459.5 127.5,460.5 128.5,459.5 128.5,458.5 129.5,458.5 129.5,459.5 130.5,459.5 130.5,460.5 130.5,461.5 130.5,462.5 131.5,463.5 131.5,464.5 132.5,464.5 133.5,464.5 134.5,464.5 134.5,465.5 135.5,464.5 136.5,464.5 136.5,463.5 137.5,463.5 137.5,462.5 138.5,462.5 138.5,461.5 139.5,461.5 139.5,459.5 139.5,460.5 140.5,460.5 140.5,459.5 141.5,459.5 142.5,459.5 142.5,458.5 143.5,458.5 144.5,457.5 144.5,458.5 145.5,458.5 145.5,457.5 146.5,457.5 147.5,457.5 147.5,456.5 148.5,457.5 149.5,457.5 149.5,458.5 150.5,457.5 151.5,457.5 152.5,457.5 153.5,457.5 154.5,457.5 155.5,457.5 156.5,457.5 157.5,457.5 158.5,457.5 159.5,456.5 159.5,457.5 160.5,457.5 161.5,457.5 162.5,457.5 163.5,457.5 164.5,458.5 164.5,457.5 165.5,457.5 165.5,458.5 166.5,457.5 167.5,457.5 168.5,457.5 169.5,457.5 170.5,457.5 171.5,457.5 172.5,457.5 173.5,457.5 174.5,457.5 175.5,457.5 176.5,457.5 177.5,457.5 178.5,457.5 179.5,457.5 180.5,457.5 181.5,457.5 182.5,457.5 183.5,457.5 184.5,457.5 185.5,457.5 185.5,456.5 186.5,456.5 186.5,457.5 187.5,457.5 188.5,457.5 189.5,457.5 189.5,456.5 190.5,457.5 190.5,456.5 191.5,456.5 191.5,457.5 192.5,456.5 193.5,456.5 193.5,457.5 194.5,456.5 194.5,457.5 195.5,456.5 196.5,456.5 197.5,456.5 198.5,456.5 199.5,456.5 200.5,456.5 201.5,456.5 202.5,456.5 203.5,456.5 203.5,455.5 204.5,456.5 205.5,455.5 205.5,456.5 206.5,456.5 207.5,455.5 207.5,456.5 208.5,456.5 208.5,455.5 209.5,455.5 209.5,456.5 210.5,456.5 211.5,456.5 211.5,455.5 212.5,456.5 213.5,456.5 214.5,456.5 215.5,456.5 215.5,457.5 216.5,457.5 217.5,457.5 218.5,457.5 219.5,457.5 220.5,457.5 221.5,457.5 222.5,456.5 222.5,457.5 223.5,457.5 223.5,456.5 224.5,456.5 225.5,456.5 226.5,456.5 226.5,455.5 227.5,455.5 227.5,456.5 228.5,455.5 229.5,455.5 230.5,455.5 231.5,454.5 232.5,454.5 233.5,453.5 233.5,454.5 234.5,453.5 235.5,453.5 235.5,452.5 236.5,452.5 237.5,452.5 238.5,452.5 238.5,451.5 239.5,452.5 239.5,451.5 240.5,451.5 241.5,451.5 242.5,451.5 243.5,451.5 244.5,451.5 245.5,451.5 246.5,451.5 247.5,451.5 248.5,451.5 249.5,451.5 250.5,451.5 251.5,451.5 252.5,451.5 252.5,450.5 253.5,450.5 254.5,450.5 255.5,450.5 255.5,449.5 256.5,449.5 257.5,449.5 258.5,449.5 259.5,449.5 260.5,449.5 261.5,449.5 261.5,448.5 262.5,448.5 263.5,448.5 264.5,448.5 265.5,448.5 265.5,447.5 266.5,447.5 267.5,447.5 268.5,447.5 269.5,446.5 270.5,446.5 271.5,446.5 271.5,445.5 272.5,445.5 273.5,445.5 273.5,444.5 274.5,445.5 274.5,444.5 275.5,444.5 276.5,444.5 276.5,443.5 277.5,443.5 278.5,443.5 278.5,442.5 279.5,442.5 280.5,442.5 280.5,441.5 281.5,441.5 282.5,441.5 282.5,440.5 283.5,440.5 284.5,440.5 284.5,439.5 285.5,439.5 286.5,439.5 286.5,438.5 287.5,438.5 288.5,437.5 289.5,437.5 289.5,436.5 290.5,436.5 291.5,436.5 291.5,435.5 292.5,435.5 293.5,434.5 294.5,434.5 294.5,433.5 295.5,433.5 296.5,433.5 296.5,432.5 297.5,432.5 298.5,431.5 299.5,431.5 299.5,430.5 300.5,430.5 301.5,429.5 302.5,429.5 302.5,428.5 303.5,428.5 304.5,428.5 304.5,427.5 305.5,427.5 305.5,426.5 306.5,426.5 307.5,426.5 307.5,425.5 308.5,425.5 308.5,424.5 309.5,424.5 310.5,424.5 310.5,423.5 311.5,423.5 311.5,422.5 312.5,422.5 313.5,422.5 313.5,421.5 314.5,421.5 314.5,420.5 315.5,420.5 316.5,419.5 317.5,419.5 317.5,418.5 318.5,418.5 319.5,418.5 319.5,417.5 320.5,417.5 320.5,416.5 321.5,416.5 322.5,415.5 323.5,415.5 323.5,414.5 324.5,414.5 325.5,413.5 326.5,413.5 326.5,412.5 327.5,412.5 327.5,411.5 328.5,411.5 328.5,410.5 329.5,410.5 329.5,409.5 330.5,409.5 330.5,408.5 331.5,408.5 331.5,407.5 332.5,407.5 332.5,406.5 333.5,406.5 333.5,405.5 334.5,405.5 334.5,404.5 335.5,404.5 335.5,403.5 336.5,402.5 336.5,401.5 337.5,401.5 337.5,400.5 338.5,400.5 338.5,399.5 338.5,398.5 339.5,398.5 339.5,397.5 340.5,396.5 340.5,395.5 340.5,394.5 341.5,393.5 341.5,392.5 342.5,392.5 342.5,391.5 343.5,390.5 343.5,389.5 344.5,389.5 344.5,388.5 345.5,388.5 345.5,387.5 346.5,387.5 346.5,386.5 347.5,386.5 347.5,385.5 348.5,385.5 348.5,384.5 349.5,384.5 349.5,383.5 350.5,382.5 350.5,381.5 351.5,380.5 351.5,379.5 352.5,379.5 352.5,378.5 352.5,377.5 353.5,377.5 353.5,376.5 353.5,375.5 354.5,375.5 354.5,374.5 354.5,373.5 355.5,372.5 355.5,371.5 355.5,370.5 356.5,370.5 356.5,369.5 356.5,368.5 357.5,367.5 357.5,366.5 357.5,365.5 358.5,364.5 358.5,363.5 358.5,362.5 359.5,361.5 359.5,360.5 359.5,359.5 360.5,358.5 360.5,357.5 360.5,356.5 360.5,355.5 361.5,355.5 361.5,354.5 361.5,353.5 361.5,352.5 362.5,351.5 362.5,350.5 362.5,349.5 362.5,348.5 362.5,347.5 363.5,346.5 363.5,345.5 363.5,344.5 363.5,343.5 364.5,342.5 364.5,341.5 364.5,340.5 364.5,339.5 365.5,338.5 365.5,337.5 365.5,336.5 365.5,335.5 366.5,334.5 366.5,333.5 366.5,332.5 366.5,331.5 367.5,330.5 367.5,329.5 367.5,328.5 367.5,327.5 368.5,326.5 368.5,325.5 368.5,324.5 369.5,323.5 369.5,322.5 369.5,321.5 370.5,320.5 370.5,319.5 370.5,318.5 371.5,317.5 371.5,316.5 371.5,315.5 372.5,314.5 372.5,313.5 372.5,312.5 373.5,311.5 373.5,310.5 373.5,309.5 374.5,309.5 374.5,308.5 374.5,307.5 375.5,306.5 375.5,305.5 375.5,304.5 376.5,304.5 376.5,303.5 376.5,302.5 377.5,302.5 377.5,301.5 377.5,300.5 378.5,300.5 378.5,299.5 379.5,298.5 379.5,297.5 380.5,297.5 380.5,296.5 381.5,295.5 381.5,294.5 382.5,294.5 382.5,293.5 383.5,293.5 383.5,292.5 384.5,292.5 384.5,291.5 385.5,291.5 385.5,290.5 386.5,290.5 386.5,289.5 386.5,288.5 387.5,288.5 387.5,287.5 388.5,287.5 388.5,286.5 389.5,286.5 389.5,285.5 390.5,285.5 391.5,284.5 392.5,283.5 393.5,282.5 394.5,282.5 394.5,281.5 395.5,281.5 395.5,280.5 396.5,280.5 396.5,279.5 397.5,279.5 397.5,278.5 398.5,278.5 398.5,277.5 399.5,277.5 400.5,276.5 401.5,275.5 402.5,275.5 402.5,274.5 403.5,274.5 403.5,273.5 404.5,273.5 404.5,272.5 405.5,272.5 405.5,271.5 406.5,271.5 406.5,270.5 407.5,270.5 407.5,269.5 408.5,269.5 408.5,268.5 409.5,268.5 410.5,267.5 410.5,266.5 411.5,266.5 411.5,265.5 412.5,265.5 412.5,264.5 413.5,264.5 413.5,263.5 414.5,263.5 414.5,262.5 415.5,262.5 415.5,261.5 416.5,261.5 416.5,260.5 417.5,260.5 417.5,259.5 418.5,259.5 419.5,258.5 420.5,257.5 421.5,256.5 422.5,255.5 423.5,254.5 424.5,254.5 424.5,253.5 425.5,253.5 425.5,252.5 426.5,252.5 426.5,251.5 427.5,251.5 427.5,250.5 428.5,250.5 428.5,249.5 429.5,249.5 430.5,249.5 430.5,248.5 431.5,248.5 432.5,248.5 433.5,248.5 433.5,247.5 434.5,247.5 435.5,247.5 436.5,247.5 436.5,248.5 437.5,248.5 438.5,248.5 439.5,248.5 440.5,248.5 441.5,249.5 442.5,249.5 442.5,250.5 443.5,250.5 444.5,251.5 445.5,251.5 445.5,252.5 446.5,252.5 446.5,253.5 447.5,253.5 447.5,254.5 448.5,254.5 448.5,255.5 449.5,255.5 449.5,256.5 450.5,256.5 450.5,257.5 451.5,257.5 451.5,258.5 452.5,258.5 452.5,259.5 453.5,259.5 453.5,260.5 454.5,261.5 454.5,262.5 455.5,262.5 455.5,263.5 456.5,264.5 456.5,265.5 457.5,265.5 457.5,266.5 457.5,267.5 458.5,267.5 458.5,268.5 459.5,268.5 459.5,269.5 460.5,270.5 460.5,271.5 461.5,271.5 461.5,272.5 462.5,272.5 462.5,273.5 463.5,273.5 463.5,274.5 464.5,274.5 464.5,275.5 465.5,276.5 466.5,277.5 467.5,278.5 468.5,278.5 468.5,279.5 469.5,279.5 469.5,280.5 470.5,280.5 471.5,281.5 472.5,281.5 472.5,282.5 473.5,282.5 474.5,282.5 474.5,283.5 475.5,283.5 476.5,283.5 476.5,284.5 477.5,284.5 478.5,284.5 478.5,285.5 479.5,285.5 480.5,285.5 481.5,285.5 481.5,286.5 482.5,286.5 483.5,286.5 484.5,286.5 485.5,286.5 486.5,286.5 487.5,286.5 488.5,286.5 489.5,286.5 490.5,286.5 490.5,285.5 491.5,285.5 492.5,285.5"/>
<polyline points="269.5,460.5 270.5,460.5 270.5,459.5 271.5,459.5 272.5,459.5 273.5,458.5 274.5,458.5 275.5,458.5 275.5,457.5 276.5,457.5 277.5,457.5 277.5,456.5 278.5,456.5 279.5,456.5 279.5,455.5 280.5,455.5 281.5,455.5 282.5,455.5 282.5,454.5 283.5,454.5 284.5,453.5 285.5,453.5 286.5,452.5 287.5,452.5 288.5,451.5 289.5,451.5 289.5,450.5 290.5,450.5 291.5,449.5 292.5,449.5 292.5,448.5 293.5,448.5 293.5,447.5 294.5,447.5 295.5,447.5 295.5,446.5 296.5,446.5 296.5,445.5 297.5,445.5 298.5,445.5 298.5,444.5 299.5,444.5 299.5,443.5 300.5,443.5 301.5,442.5 302.5,442.5 302.5,441.5 303.5,441.5 303.5,440.5 304.5,440.5 305.5,439.5 306.5,439.5 306.5,438.5 307.5,438.5 307.5,437.5 308.5,437.5 308.5,436.5 309.5,436.5 309.5,435.5 310.5,435.5 310.5,434.5 311.5,434.5 311.5,433.5 312.5,433.5 312.5,432.5 313.5,432.5 313.5,431.5 314.5,431.5 315.5,430.5 315.5,429.5 316.5,429.5 316.5,428.5 317.5,428.5 317.5,427.5 318.5,427.5 318.5,426.5 319.5,426.5 319.5,425.5 320.5,425.5 320.5,424.5 321.5,424.5 321.5,423.5 322.5,423.5 322.5,422.5 323.5,422.5 323.5,421.5 324.5,421.5 324.5,420.5 325.5,420.5 325.5,419.5 326.5,418.5 326.5,417.5 327.5,417.5 327.5,416.5 328.5,416.5 328.5,415.5 329.5,415.5 329.5,414.5 330.5,413.5 330.5,412.5 331.5,412.5 331.5,411.5 332.5,411.5 332.5,410.5 333.5,409.5 333.5,408.5 334.5,408.5 334.5,407.5 335.5,406.5 335.5,405.5 336.5,405.5 336.5,404.5 337.5,403.5 337.5,402.5 338.5,402.5 338.5,401.5 338.5,400.5 339.5,399.5 339.5,398.5 340.5,397.5 340.5,396.5 340.5,395.5 341.5,395.5 341.5,394.5 341.5,393.5 342.5,392.5 342.5,391.5 343.5,391.5 343.5,390.5 344.5,390.5 344.5,389.5 345.5,389.5 345.5,388.5 346.5,388.5 346.5,387.5 347.5,387.5 347.5,386.5 348.5,386.5 348.5,385.5 349.5,384.5 349.5,383.5 350.5,383.5 350.5,382.5 351.5,381.5 351.5,380.5 352.5,379.5 352.5,378.5 353.5,378.5 353.5,377.5 353.5,376.5 354.5,376.5 354.5,375.5 354.5,374.5 355.5,373.5 355.5,372.5 356.5,371.5 356.5,370.5 356.5,369.5 357.5,368.5 357.5,367.5 357.5,366.5 358.5,366.5 358.5,365.5 358.5,364.5 358.5,363.5 359.5,363.5 359.5,362.5 359.5,361.5 359.5,360.5 360.5,359.5 360.5,358.5 360.5,357.5 361.5,356.5 361.5,355.5 361.5,354.5 361.5,353.5 362.5,352.5 362.5,351.5 362.5,350.5 362.5,349.5 362.5,348.5 363.5,347.5 363.5,346.5 363.5,345.5 363.5,344.5 364.5,343.5 364.5,342.5 364.5,341.5 364.5,340.5 365.5,339.5 365.5,338.5 365.5,337.5 365.5,336.5 366.5,335.5 366.5,334.5 366.5,333.5 366.5,332.5 367.5,331.5 367.5,330.5 367.5,329.5 368.5,328.5 368.5,327.5 368.5,326.5 368.5,325.5 369.5,324.5 369.5,323.5 369.5,322.5 370.5,321.5 370.5,320.5 370.5,319.5 371.5,318.5 371.5,317.5 371.5,316.5 372.5,315.5 372.5,314.5 372.5,313.5 373.5,312.5 373.5,311.5 373.5,310.5 374.5,310.5 374.5,309.5 374.5,308.5 375.5,307.5 375.5,306.5 375.5,305.5 376.5,305.5 376.5,304.5 376.5,303.5 377.5,303.5 377.5,302.5 377.5,301.5 378.5,301.5 378.5,300.5 379.5,299.5 379.5,298.5 380.5,298.5 380.5,297.5 381.5,296.5 381.5,295.5 382.5,295.5 382.5,294.5 383.5,293.5 383.5,292.5 384.5,292.5 384.5,291.5 385.5,290.5 386.5,290.5 386.5,289.5 387.5,289.5 387.5,288.5 388.5,288.5 389.5,288.5 389.5,287.5 390.5,287.5 391.5,287.5 391.5,286.5 392.5,286.5 393.5,286.5 394.5,285.5 395.5,285.5 396.5,285.5 397.5,285.5 397.5,284.5 398.5,284.5 399.5,284.5 400.5,284.5 401.5,284.5 402.5,284.5 402.5,283.5 403.5,283.5 404.5,283.5 405.5,283.5 406.5,282.5 407.5,282.5 408.5,282.5 409.5,281.5 410.5,281.5 411.5,281.5 411.5,280.5 412.5,280.5 413.5,280.5 414.5,280.5 414.5,279.5 415.5,279.5 416.5,279.5 417.5,278.5 418.5,278.5 419.5,278.5 419.5,277.5 420.5,277.5 421.5,277.5 422.5,277.5 423.5,277.5 424.5,276.5 425.5,276.5 426.5,276.5 426.5,277.5 427.5,277.5 428.5,277.5 429.5,277.5 430.5,277.5 431.5,277.5 431.5,278.5 432.5,278.5 433.5,278.5 433.5,279.5 434.5,279.5 434.5,280.5 435.5,280.5 435.5,281.5 436.5,281.5 437.5,282.5 438.5,282.5 438.5,283.5 439.5,283.5 439.5,284.5 440.5,284.5 440.5,285.5 441.5,285.5 441.5,286.5 442.5,286.5 442.5,287.5 443.5,287.5 443.5,288.5 444.5,288.5 444.5,289.5 445.5,289.5 445.5,290.5 446.5,290.5 446.5,291.5 447.5,291.5 447.5,292.5 448.5,293.5 448.5,294.5 449.5,294.5 449.5,295.5 450.5,296.5 450.5,297.5 451.5,297.5 451.5,298.5 452.5,298.5 452.5,299.5 453.5,300.5 453.5,301.5 454.5,301.5 454.5,302.5 455.5,303.5 455.5,304.5 456.5,304.5 456.5,305.5 456.5,306.5 457.5,306.5 457.5,307.5 457.5,308.5 458.5,308.5 458.5,309.5 459.5,310.5 459.5,311.5 460.5,311.5 460.5,312.5 461.5,313.5 461.5,314.5 462.5,314.5 462.5,315.5 463.5,316.5 463.5,317.5 464.5,317.5 464.5,318.5 464.5,319.5 465.5,319.5 465.5,320.5 466.5,320.5 466.5,321.5 466.5,322.5 467.5,322.5 467.5,323.5 468.5,323.5 468.5,324.5 469.5,325.5 469.5,326.5 470.5,326.5 470.5,327.5 471.5,328.5 471.5,329.5 472.5,329.5 472.5,330.5 473.5,331.5 473.5,332.5 474.5,332.5 474.5,333.5 475.5,333.5 475.5,334.5 476.5,335.5 476.5,336.5 477.5,336.5 477.5,337.5 478.5,338.5 478.5,339.5 479.5,339.5 479.5,340.5 480.5,340.5 480.5,341.5 481.5,342.5 481.5,343.5 482.5,343.5 482.5,344.5 482.5,345.5 483.5,345.5 483.5,346.5 484.5,346.5 484.5,347.5 485.5,348.5 485.5,349.5 486.5,349.5 486.5,350.5 487.5,350.5 487.5,351.5 488.5,352.5 488.5,353.5 489.5,353.5 489.5,354.5 490.5,354.5 490.5,355.5 491.5,355.5 491.5,356.5 492.5,357.5"/>
<polyline points="131.5,430.5 132.5,430.5 132.5,429.5 133.5,429.5 134.5,429.5 135.5,429.5 136.5,429.5 137.5,429.5 138.5,429.5 139.5,429.5 139.5,430.5 140.5,429.5 140.5,430.5 141.5,430.5 142.5,431.5 142.5,430.5 143.5,431.5 144.5,431.5 144.5,432.5 145.5,432.5 146.5,432.5 147.5,432.5 148.5,432.5 148.5,433.5 149.5,433.5 150.5,433.5 150.5,434.5 151.5,434.5 152.5,434.5 153.5,434.5 153.5,435.5 154.5,435.5 155.5,435.5 156.5,435.5 156.5,436.5 157.5,436.5 158.5,436.5 159.5,436.5 160.5,436.5 160.5,437.5 161.5,437.5 162.5,437.5 163.5,437.5 164.5,437.5 164.5,438.5 165.5,438.5 166.5,438.5 167.5,438.5 168.5,438.5 169.5,438.5 170.5,438.5 171.5,438.5 171.5,437.5 172.5,438.5 172.5,437.5 173.5,437.5 174.5,437.5 175.5,437.5 176.5,437.5 177.5,437.5 177.5,436.5 178.5,436.5 179.5,436.5 180.5,436.5 180.5,437.5 181.5,437.5 182.5,437.5 182.5,438.5 183.5,438.5 184.5,438.5 185.5,438.5 185.5,439.5 186.5,439.5 187.5,439.5 188.5,439.5 189.5,439.5 190.5,439.5 191.5,439.5 192.5,439.5 193.5,439.5 194.5,439.5 195.5,439.5 196.5,439.5 197.5,439.5 198.5,439.5 199.5,439.5 200.5,439.5 201.5,439.5 202.5,439.5 203.5,439.5 204.5,439.5 205.5,439.5 206.5,439.5 207.5,439.5 208.5,439.5 209.5,439.5 210.5,439.5 211.5,439.5 212.5,439.5 213.5,439.5 214.5,439.5 214.5,438.5 215.5,438.5 216.5,438.5 217.5,438.5 218.5,438.5 219.5,438.5 220.5,438.5 221.5,438.5 222.5,438.5 223.5,438.5 223.5,437.5 224.5,437.5 225.5,437.5 226.5,437.5 227.5,437.5 228.5,437.5 229.5,437.5 230.5,437.5 230.5,436.5 231.5,436.5 232.5,436.5 233.5,436.5 234.5,436.5 235.5,436.5 236.5,436.5 236.5,435.5 237.5,435.5 238.5,435.5 239.5,435.5 240.5,435.5 241.5,434.5 242.5,434.5 243.5,434.5 244.5,434.5 245.5,434.5 246.5,433.5 247.5,433.5 248.5,433.5 249.5,433.5 249.5,432.5 250.5,432.5 251.5,432.5 252.5,432.5 253.5,431.5 254.5,431.5 255.5,431.5 255.5,430.5 256.5,430.5 257.5,430.5 257.5,429.5 258.5,429.5 259.5,429.5 259.5,428.5 260.5,428.5 261.5,428.5 261.5,427.5 262.5,427.5 263.5,426.5 264.5,426.5 264.5,425.5 265.5,425.5 266.5,425.5 266.5,424.5 267.5,424.5 267.5,423.5 268.5,423.5 269.5,423.5 269.5,422.5 270.5,422.5 270.5,421.5 271.5,421.5 272.5,420.5 273.5,420.5 273.5,419.5 274.5,419.5 274.5,418.5 275.5,418.5 275.5,417.5 276.5,417.5 277.5,416.5 278.5,415.5 279.5,414.5 280.5,413.5 281.5,413.5 281.5,412.5 282.5,411.5 283.5,410.5 284.5,409.5 284.5,408.5 285.5,408.5 285.5,407.5 286.5,407.5 286.5,406.5 287.5,406.5 287.5,405.5 288.5,405.5 288.5,404.5 289.5,403.5 289.5,402.5 290.5,402.5 290.5,401.5 291.5,400.5 291.5,399.5 292.5,399.5 292.5,398.5 293.5,397.5 293.5,396.5 294.5,396.5 294.5,395.5"/>
<polyline points="82.5,465.5 82.5,466.5 82.5,467.5 82.5,468.5 83.5,468.5 83.5,469.5 84.5,468.5 84.5,469.5 84.5,470.5 85.5,468.5 85.5,469.5 85.5,470.5 85.5,471.5 86.5,467.5 86.5,469.5 86.5,468.5 87.5,467.5 87.5,468.5 87.5,465.5 88.5,467.5 88.5,464.5 88.5,462.5 88.5,463.5 89.5,462.5 89.5,461.5 90.5,462.5 90.5,461.5 91.5,462.5 91.5,463.5 91.5,460.5 92.5,461.5 92.5,460.5 93.5,460.5 93.5,461.5 94.5,460.5 94.5,459.5 95.5,457.5 95.5,459.5 95.5,460.5 96.5,459.5 96.5,460.5 96.5,461.5 97.5,460.5 97.5,461.5 98.5,460.5 98.5,459.5 98.5,458.5 99.5,458.5 99.5,457.5 99.5,459.5 100.5,457.5 100.5,458.5 101.5,457.5 101.5,458.5 102.5,458.5 102.5,457.5 102.5,456.5 103.5,457.5 103.5,455.5 103.5,456.5 104.5,457.5 104.5,458.5 104.5,459.5 105.5,460.5 105.5,461.5 105.5,462.5 106.5,461.5 106.5,462.5 107.5,464.5 107.5,462.5 107.5,461.5 108.5,461.5 108.5,460.5 108.5,458.5 109.5,458.5 109.5,459.5 109.5,457.5 110.5,456.5 110.5,457.5 110.5,458.5 111.5,457.5 111.5,455.5 112.5,456.5 113.5,456.5 113.5,454.5 113.5,455.5 114.5,453.5 114.5,454.5 115.5,453.5 115.5,454.5 116.5,453.5 116.5,454.5 117.5,453.5 117.5,452.5 118.5,453.5 118.5,452.5 119.5,452.5 120.5,452.5 121.5,452.5 121.5,454.5 121.5,453.5 122.5,453.5 122.5,452.5 123.5,452.5 123.5,453.5 124.5,452.5 124.5,451.5 125.5,453.5 126.5,453.5 126.5,454.5 127.5,453.5 127.5,454.5 128.5,453.5 128.5,454.5 129.5,455.5 129.5,454.5 130.5,454.5 130.5,453.5 131.5,453.5 132.5,453.5 132.5,454.5 133.5,454.5 134.5,454.5 135.5,454.5 136.5,454.5 136.5,455.5 137.5,455.5 137.5,454.5 138.5,454.5 138.5,455.5 139.5,455.5 140.5,455.5 140.5,454.5 141.5,455.5 141.5,454.5 142.5,455.5 142.5,454.5 143.5,455.5 143.5,454.5 144.5,455.5 144.5,454.5 145.5,455.5 145.5,454.5 146.5,454.5 146.5,455.5 147.5,454.5 148.5,454.5 148.5,455.5 149.5,454.5 149.5,455.5 150.5,454.5 150.5,455.5 151.5,454.5 151.5,455.5 152.5,455.5 152.5,454.5 153.5,455.5 153.5,454.5 154.5,455.5 155.5,455.5 156.5,455.5 157.5,455.5 157.5,454.5 158.5,455.5 159.5,455.5 160.5,455.5 161.5,455.5 162.5,455.5 163.5,456.5 163.5,455.5 164.5,455.5 165.5,455.5 166.5,455.5 167.5,455.5 168.5,455.5 169.5,455.5 170.5,455.5 171.5,455.5 172.5,455.5 173.5,455.5 174.5,455.5 174.5,454.5 175.5,455.5 176.5,455.5 177.5,455.5 178.5,455.5 179.5,455.5 180.5,455.5 180.5,454.5 181.5,454.5 182.5,454.5 183.5,454.5 184.5,453.5 185.5,453.5 186.5,453.5 186.5,452.5 187.5,453.5 187.5,452.5 188.5,452.5 189.5,452.5 190.5,452.5 190.5,451.5 191.5,451.5 192.5,451.5 193.5,451.5 193.5,450.5 194.5,450.5 195.5,450.5 196.5,449.5 197.5,449.5 198.5,448.5 198.5,449.5 199.5,448.5 200.5,448.5 201.5,448.5 201.5,447.5 202.5,447.5 203.5,447.5 204.5,447.5 205.5,446.5 206.5,446.5 207.5,446.5 208.5,445.5 209.5,445.5 210.5,445.5 211.5,445.5 212.5,445.5 213.5,445.5 214.5,445.5 214.5,444.5 215.5,445.5 215.5,444.5 216.5,444.5 216.5,445.5 217.5,445.5 217.5,444.5 218.5,445.5 218.5,444.5 219.5,444.5 220.5,444.5 221.5,444.5 222.5,444.5 223.5,444.5 224.5,444.5 224.5,443.5 225.5,443.5 226.5,443.5 227.5,443.5 228.5,443.5 228.5,442.5 229.5,442.5 229.5,443.5 230.5,442.5 231.5,442.5 232.5,442.5 233.5,441.5 233.5,442.5 234.5,441.5 235.5,441.5 236.5,441.5 236.5,440.5 237.5,440.5 238.5,439.5 239.5,439.5 239.5,438.5 240.5,438.5 240.5,439.5 241.5,438.5 242.5,438.5 242.5,437.5 243.5,437.5 244.5,437.5 245.5,437.5 245.5,436.5 246.5,436.5 247.5,436.5 248.5,435.5 249.5,435.5 250.5,435.5 251.5,435.5 251.5,434.5 252.5,434.5 253.5,434.5 254.5,434.5 255.5,434.5 256.5,434.5 256.5,433.5 257.5,433.5 257.5,434.5"/>
<polyline points="112.5,457.5 112.5,456.5 113.5,457.5 113.5,458.5 113.5,456.5 114.5,456.5 114.5,457.5 115.5,456.5 115.5,457.5 116.5,456.5 116.5,455.5 117.5,456.5 118.5,456.5 119.5,457.5 119.5,456.5 119.5,455.5 120.5,455.5 120.5,456.5 121.5,454.5 121.5,455.5 122.5,455.5 123.5,455.5 123.5,454.5 124.5,455.5 125.5,455.5 126.5,455.5 127.5,454.5 127.5,455.5 128.5,453.5 128.5,454.5 129.5,453.5 129.5,454.5 130.5,454.5 130.5,453.5 131.5,454.5 131.5,452.5 131.5,453.5 132.5,452.5 132.5,453.5 133.5,452.5 133.5,453.5 134.5,452.5 134.5,453.5 135.5,452.5 136.5,452.5 136.5,453.5 137.5,452.5 137.5,453.5 138.5,452.5 139.5,452.5 139.5,451.5 140.5,451.5 140.5,452.5 141.5,451.5 141.5,452.5 142.5,452.5 142.5,451.5 143.5,451.5 144.5,450.5 145.5,450.5 146.5,450.5 146.5,449.5 147.5,450.5 147.5,449.5 148.5,449.5 149.5,449.5 150.5,450.5 150.5,449.5 151.5,449.5 152.5,448.5 152.5,449.5 153.5,448.5 154.5,448.5 154.5,447.5 155.5,448.5 155.5,447.5 156.5,447.5 156.5,448.5 157.5,447.5 158.5,447.5 159.5,448.5 159.5,447.5 160.5,447.5 160.5,448.5 161.5,447.5 162.5,447.5 162.5,448.5 163.5,447.5 163.5,448.5 164.5,447.5"/>
<polyline points="82.5,429.5 82.5,428.5 83.5,429.5 83.5,430.5 84.5,429.5 84.5,430.5"/>
</g>
<path d="M69.0 498.5 H72.5M69.0 447.5 H72.5M69.0 395.5 H72.5M69.0 344.5 H72.5M69.0 293.5 H72.5M69.0 242.5 H72.5M69.0 190.5 H72.5M69.0 139.5 H72.5M69.0 88.5 H72.5M82.5 498.5 V502.0M130.5 498.5 V502.0M187.5 498.5 V502.0M245.5 498.5 V502.0M303.5 498.5 V502.0M361.5 498.5 V502.0M418.5 498.5 V502.0M492.5 498.5 V502.0M82.5 520.5 V524.0M130.5 520.5 V524.0M187.5 520.5 V524.0M245.5 520.5 V524.0M303.5 520.5 V524.0M361.5 520.5 V524.0M418.5 520.5 V524.0M492.5 520.5 V524.0M82.5 542.5 V546.0M130.5 542.5 V546.0M187.5 542.5 V546.0M245.5 542.5 V546.0M303.5 542.5 V546.0M361.5 542.5 V546.0M418.5 542.5 V546.0M492.5 542.5 V546.0M82.5 564.5 V568.0M130.5 564.5 V568.0M187.5 564.5 V568.0M245.5 564.5 V568.0M303.5 564.5 V568.0M361.5 564.5 V568.0M418.5 564.5 V568.0M492.5 564.5 V568.0" stroke="#2a2a2a" stroke-width="1" fill="none" shape-rendering="crispEdges"/>
<path d="M72.0 498.5 H766.0M72.0 520.5 H766.0M72.0 542.5 H766.0M72.0 564.5 H766.0" stroke="#484848" stroke-width="1" fill="none" shape-rendering="crispEdges"/>
<path d="M72.5 499.0 V60.5 H765.5 V499.0" fill="none" stroke="#000" stroke-width="1" shape-rendering="crispEdges"/>
<g font-family="DejaVu Sans, Liberation Sans, sans-serif" font-size="15.28" fill="#000" text-anchor="end">
<text transform="translate(66.0 504.1) scale(0.978 1)">0.0</text>
<text transform="translate(66.0 453.1) scale(0.978 1)">10.0</text>
<text transform="translate(66.0 401.1) scale(0.978 1)">20.0</text>
<text transform="translate(66.0 350.1) scale(0.978 1)">30.0</text>
<text transform="translate(66.0 299.1) scale(0.978 1)">40.0</text>
<text transform="translate(66.0 248.1) scale(0.978 1)">50.0</text>
<text transform="translate(66.0 196.1) scale(0.978 1)">60.0</text>
<text transform="translate(66.0 145.1) scale(0.978 1)">70.0</text>
<text transform="translate(66.0 94.1) scale(0.978 1)">80.0</text>
</g>
<g font-family="DejaVu Sans, Liberation Sans, sans-serif" font-size="15.28" fill="#000" text-anchor="middle">
<text transform="translate(84.4 516) scale(0.975 1)">87.3</text>
<text transform="translate(132.4 516) scale(0.975 1)">75.0</text>
<text transform="translate(189.4 516) scale(0.975 1)">60.0</text>
<text transform="translate(247.4 516) scale(0.975 1)">45.0</text>
<text transform="translate(305.4 516) scale(0.975 1)">30.0</text>
<text transform="translate(363.4 516) scale(0.975 1)">15.0</text>
<text transform="translate(420.4 516) scale(0.975 1)">0.0</text>
<text transform="translate(491.7 516) scale(0.975 1)">-19.1</text>
<text transform="translate(82.8 538) scale(0.950 1)">82.4</text>
<text transform="translate(130.8 538) scale(0.950 1)">71.3</text>
<text transform="translate(187.8 538) scale(0.950 1)">55.8</text>
<text transform="translate(245.8 538) scale(0.950 1)">40.6</text>
<text transform="translate(303.8 538) scale(0.950 1)">26.8</text>
<text transform="translate(361.8 538) scale(0.950 1)">15.5</text>
<text transform="translate(418.8 538) scale(0.950 1)">-13.7</text>
<text transform="translate(492.8 538) scale(0.950 1)">-28.4</text>
<text transform="translate(84.4 560) scale(0.950 1)">5.3</text>
<text transform="translate(132.4 560) scale(0.950 1)">9.1</text>
<text transform="translate(189.4 560) scale(0.950 1)">9.9</text>
<text transform="translate(245.5 560) scale(0.950 1)">10.2</text>
<text transform="translate(303.2 560) scale(0.950 1)">10.3</text>
<text transform="translate(361.5 560) scale(0.950 1)">10.4</text>
<text transform="translate(418.2 560) scale(0.950 1)">10.6</text>
<text transform="translate(492.5 560) scale(0.950 1)">10.9</text>
<text transform="translate(81.6 582) scale(0.955 1)">23:31</text>
<text transform="translate(129.6 582) scale(0.955 1)">23:35</text>
<text transform="translate(186.6 582) scale(0.955 1)">23:39</text>
<text transform="translate(244.6 582) scale(0.955 1)">23:43</text>
<text transform="translate(302.6 582) scale(0.955 1)">23:47</text>
<text transform="translate(360.6 582) scale(0.955 1)">23:51</text>
<text transform="translate(417.6 582) scale(0.955 1)">23:55</text>
<text transform="translate(491.6 582) scale(0.955 1)">23:59</text>
</g>
<g font-family="DejaVu Sans, Liberation Sans, sans-serif" font-size="15.28" fill="#000">
<text x="786.9" y="516.8">LAT [°]</text>
<text x="786.9" y="538.6" letter-spacing="-0.12">MLAT [°]</text>
<text x="786.9" y="559.9" word-spacing="1.2">MLT [h]</text>
<text transform="translate(786.6 581) scale(0.955 1)" x="0.0 11.2 20.5 31.2 36.8 41.2 52.6 69.4 77.5 90.3 104.6" y="0">UTC [HH:MM]</text>
</g>
<text font-family="DejaVu Sans, Liberation Sans, sans-serif" font-size="15.28" fill="#000" text-anchor="middle" transform="translate(20.8 279.8) rotate(-90) scale(0.977 1)">TEC [TECU]</text>
<g font-family="DejaVu Sans, Liberation Sans, sans-serif" font-size="18.33" fill="#000">
<text x="155.0 166.7 181.7 193.0 200.5 218.6 224.4 236.9 246.5 252.3 264.0 275.7 287.4 302.7 321.6 333.3 348.6 367.6 379.3 391.0 400.6 406.4 417.6 429.2 442.2 448.0 457.6 468.8 480.4 487.7 499.3 514.3 525.6 533.1 544.8 554.4 560.2 571.4 579.0 590.7 595.8 603.1 608.9 624.3 636.0 647.7 659.4 671.1" y="31.0">Swarm A, 2026−01−24, TEC southward, orbit #68413</text>
<text x="122.5 134.1 145.8 157.4 168.7 175.9 187.1 198.3 208.2 214.0 227.1 238.3 251.3 257.1 268.8 284.1 293.8 305.5 320.8 330.6 342.2 353.9 363.5 369.3 379.6 391.0 396.8 408.4 420.1 426.0 437.7 449.4 461.0 470.6 476.4 486.6 497.9 509.7 515.5 527.2 538.9 550.6 555.4 567.1 578.8 588.0 597.6 603.4 615.9 621.0 628.4 634.2 645.9 657.6 669.3 675.1 686.8 697.4" y="54.0">Equator: UTC 23:55:02, LT 11.00h, Lon 166.25°, Alt 433.6km</text>
</g>
</svg>
</body></html>
